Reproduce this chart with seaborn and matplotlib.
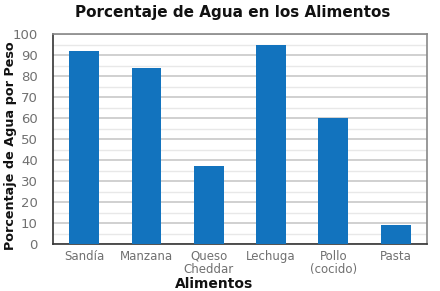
import matplotlib
matplotlib.use("Agg")
import matplotlib.pyplot as plt
import seaborn as sns
import pandas as pd
from matplotlib.ticker import MultipleLocator

categories = ["Sandía", "Manzana", "Queso\nCheddar", "Lechuga", "Pollo\n(cocido)", "Pasta"]
values = [92, 84, 37, 95, 60, 9]

df = pd.DataFrame({"Alimentos": categories, "Porcentaje": values})

sns.set_style("white")
plt.rcParams['font.family'] = ['DejaVu Sans']

fig = plt.figure(figsize=(4.4, 2.91), dpi=100)
ax = fig.add_axes([0.1205, 0.1615, 0.8495, 0.7215])

sns.barplot(data=df, x="Alimentos", y="Porcentaje", color="#1273be", width=0.48,
            saturation=1, linewidth=0, edgecolor="none", ax=ax, zorder=3)

ax.set_ylim(0, 100)
ax.set_xlim(-0.5, 5.5)
ax.yaxis.set_major_locator(MultipleLocator(10))
ax.yaxis.set_minor_locator(MultipleLocator(5))
ax.grid(axis="y", which="major", color="#c8c8c8", linewidth=1.2, zorder=0)
ax.grid(axis="y", which="minor", color="#e8e8e8", linewidth=1.0, zorder=0)
ax.set_axisbelow(True)

for s in ["left", "bottom"]:
    ax.spines[s].set_color("#333333")
    ax.spines[s].set_linewidth(1.2)
for s in ["top", "right"]:
    ax.spines[s].set_color("#888888")
    ax.spines[s].set_linewidth(1.2)

ax.tick_params(axis="y", which="major", length=8, color="#b0b0b0", labelsize=9.5, labelcolor="#707070", pad=3)
ax.tick_params(axis="y", which="minor", length=0)
ax.tick_params(axis="x", length=0, labelsize=8.5, labelcolor="#707070", pad=4)
for lbl in ax.get_xticklabels():
    lbl.set_linespacing(1.0)

ax.set_xlabel("Alimentos", fontsize=10, fontweight="bold", color="#111111")
ax.xaxis.set_label_coords(0.43, -0.155)
ax.set_ylabel("Porcentaje de Agua por Peso", fontsize=9.2, fontweight="bold", color="#111111")
ax.yaxis.set_label_coords(-0.097, 0.47)
ax.set_title("Porcentaje de Agua en los Alimentos", fontsize=11, fontweight="bold", color="#111111", pad=12, x=0.48)

fig.savefig("out.png", dpi=100)
